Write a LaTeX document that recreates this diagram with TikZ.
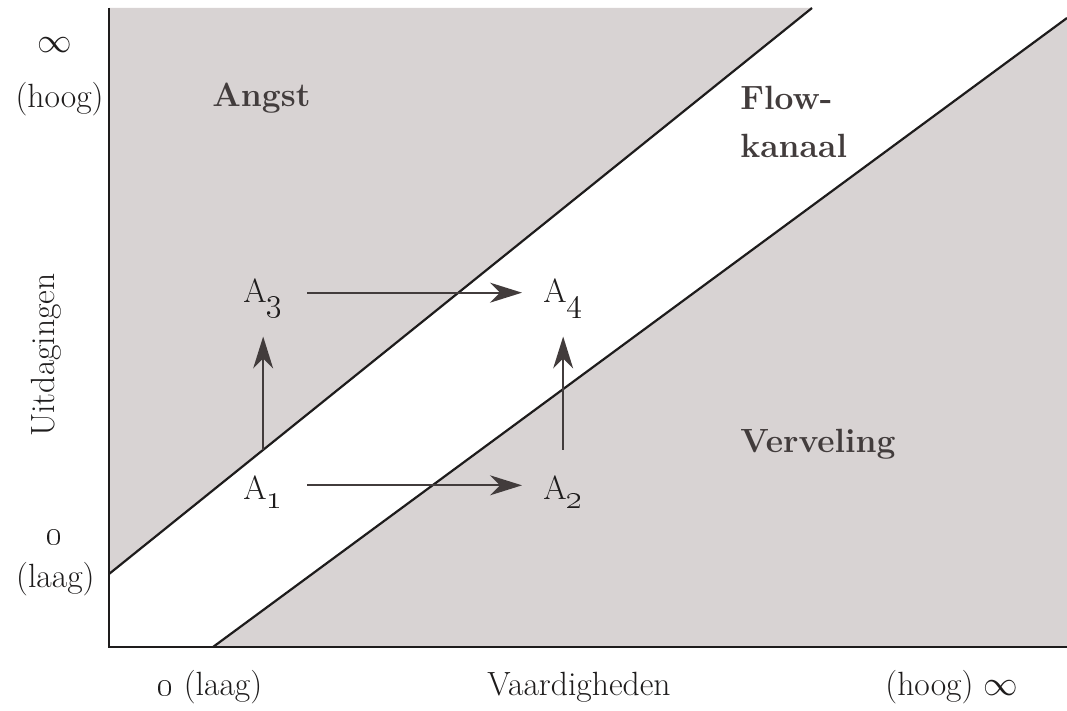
\documentclass[tikz,border=0pt]{standalone}
\usepackage{amssymb}
\usepackage{tikz}
\tikzset{x=.5pt,y=-.5pt}
\usetikzlibrary{arrows.meta, positioning}
\definecolor{zone}{RGB}{216,211,211}
\definecolor{ink}{RGB}{30,28,28}
\definecolor{dark}{RGB}{66,60,60}
\def\sz{\fontsize{16.8}{20}\selectfont}
\def\sub#1{\raisebox{-.25em}{\oldstylenums{#1}}}

\begin{document}
\begin{tikzpicture}[
    lbl/.style={font=\sz, text=ink, inner sep=0pt},
    zonelbl/.style={font=\sz\bfseries, text=dark, inner sep=0pt},
    border/.style={line width=1.4pt, draw=ink},
    edge/.style={line width=1.1pt, draw=ink},
    move/.style={line width=1pt, draw=dark,
      -{Stealth[length=16pt,width=10pt,inset=5pt]}},
    vmove/.style={move, shorten <=13pt, shorten >=9pt},
    hmove/.style={move, shorten <=12pt, shorten >=10.5pt}]
\useasboundingbox (0,0) rectangle (1067,711);
% corners of the field
\coordinate (O) at (109,647);
\coordinate (Ytop) at (109,8);
\coordinate (Xend) at (1067,647);
\coordinate (upS) at (109,574);
\coordinate (upE) at (812,8);
\coordinate (loS) at (213,647);
\coordinate (loE) at (1067,18);
% shaded zones
\fill[zone] (upS) -- (upE) -- (Ytop) -- cycle;
\fill[zone] (loS) -- (loE) -- (Xend) -- cycle;
\draw[edge] (upS) -- (upE);
\draw[edge] (loS) -- (loE);
\draw[border] (Ytop) -- (O) -- (Xend);
% axis texts
\node[lbl, anchor=base east] (hoogY) at (104,108) {(hoog)};
\node[lbl] (infY) at (55,45) {$\infty$};
\node[lbl, rotate=90] (uitd) at (46,355) {Uitdagingen};
\node[lbl] (nulY) at (55,537) {\oldstylenums{0}};
\node[lbl, anchor=base east] (laagY) at (95,588) {(laag)};
\node[lbl, anchor=base west] (nulX) at (157,695) {\oldstylenums{0} (laag)};
\node[lbl, anchor=base west] (vaard) at (487,695) {Vaardigheden};
\node[lbl, anchor=base west] (hoogX) at (885,695) {(hoog) $\infty$};
% zone names
\node[zonelbl, anchor=base west] (angst) at (212,107) {Angst};
\node[zonelbl, anchor=base west] (flow) at (740,110) {Flow-};
\node[zonelbl, anchor=base west] (kanaal) at (740,158) {kanaal};
\node[zonelbl, anchor=base west] (verv) at (740,453) {Verveling};
% states
\node[lbl, anchor=base west] (A1) at (243,500) {A\sub{1}};
\node[lbl, anchor=base west] (A2) at (543,500) {A\sub{2}};
\node[lbl, anchor=base west] (A3) at (243,303) {A\sub{3}};
\node[lbl, anchor=base west] (A4) at (543,303) {A\sub{4}};
\draw[vmove] (A1.north) -- (A3.south);
\draw[vmove] (A2.north) -- (A4.south);
\draw[hmove] ([yshift=3.5pt]A1.east) -- ([yshift=3.5pt]A2.west);
\draw[hmove] ([yshift=3pt]A3.east) -- ([yshift=3pt]A4.west);
\end{tikzpicture}
\end{document}
